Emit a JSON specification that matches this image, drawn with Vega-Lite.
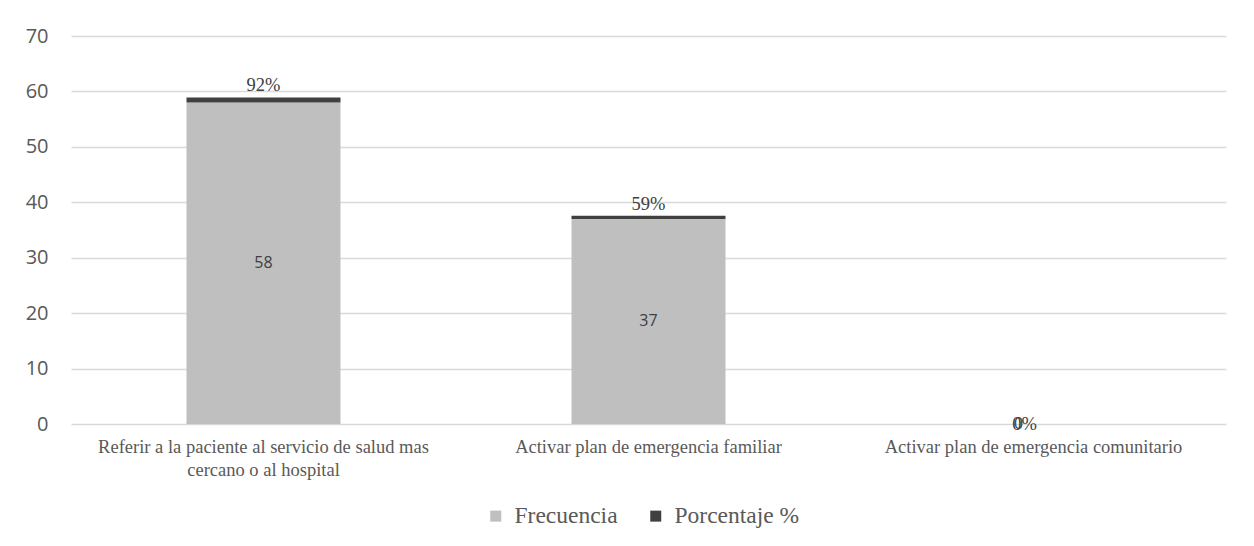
{
  "$schema": "https://vega.github.io/schema/vega-lite/v6.json",
  "width": 1155,
  "height": 388,
  "autosize": {"type": "none"},
  "padding": {"left": 71, "top": 36, "right": 28, "bottom": 122},
  "background": "white",
  "config": {"view": {"stroke": null}},
  "data": {
    "values": [
      {"categoria": "Referir a la paciente al servicio de salud mas cercano o al hospital", "serie": "Frecuencia", "valor": 58},
      {"categoria": "Referir a la paciente al servicio de salud mas cercano o al hospital", "serie": "Porcentaje %", "valor": 0.92},
      {"categoria": "Activar plan de emergencia familiar", "serie": "Frecuencia", "valor": 37},
      {"categoria": "Activar plan de emergencia familiar", "serie": "Porcentaje %", "valor": 0.59},
      {"categoria": "Activar plan de emergencia comunitario", "serie": "Frecuencia", "valor": 0},
      {"categoria": "Activar plan de emergencia comunitario", "serie": "Porcentaje %", "valor": 0}
    ]
  },
  "transform": [
    {"stack": "valor", "groupby": ["categoria"], "sort": [{"field": "serie", "order": "ascending"}], "as": ["v0", "v1"]},
    {"calculate": "(datum.v0 + datum.v1) / 2", "as": "medio"}
  ],
  "encoding": {
    "x": {
      "field": "categoria",
      "type": "nominal",
      "sort": null,
      "title": null,
      "scale": {"paddingInner": 0.6, "paddingOuter": 0.3},
      "axis": {
        "labelAngle": 0,
        "labelFont": "Liberation Serif",
        "labelFontSize": 18.5,
        "labelColor": "#595959",
        "labelLimit": 0,
        "labelPadding": 13,
        "labelLineHeight": 23,
        "labelExpr": "datum.value == 'Referir a la paciente al servicio de salud mas cercano o al hospital' ? ['Referir a la paciente al servicio de salud mas', 'cercano o al hospital'] : datum.value",
        "domain": false,
        "ticks": false
      }
    }
  },
  "layer": [
    {
      "mark": {"type": "bar"},
      "encoding": {
        "y": {
          "field": "v0",
          "type": "quantitative",
          "title": null,
          "scale": {"domain": [0, 70], "nice": false},
          "axis": {
            "values": [0, 10, 20, 30, 40, 50, 60, 70],
            "labelFont": "Open Sans",
            "labelFontSize": 20,
            "labelColor": "#595959",
            "labelPadding": 23,
            "domain": false,
            "ticks": false,
            "gridColor": "#d9d9d9",
            "gridWidth": 1.3
          }
        },
        "y2": {"field": "v1"},
        "color": {
          "field": "serie",
          "type": "nominal",
          "scale": {"domain": ["Frecuencia", "Porcentaje %"], "range": ["#bfbfbf", "#404040"]},
          "legend": {
            "title": null,
            "orient": "none",
            "direction": "horizontal",
            "legendX": 413,
            "legendY": 468,
            "symbolType": "square",
            "symbolSize": 121,
            "symbolStrokeWidth": 0,
            "labelFont": "Liberation Serif",
            "labelFontSize": 23.5,
            "labelColor": "#595959",
            "labelOffset": 7,
            "columnPadding": 26
          }
        }
      }
    },
    {
      "transform": [{"filter": "datum.serie == 'Frecuencia' && datum.valor > 0"}],
      "mark": {"type": "text", "font": "Open Sans", "fontSize": 16, "color": "#404040", "baseline": "middle"},
      "encoding": {
        "y": {"field": "medio", "type": "quantitative"},
        "text": {"field": "valor", "type": "quantitative"}
      }
    },
    {
      "transform": [{"filter": "datum.serie == 'Porcentaje %' && datum.valor > 0"}],
      "mark": {"type": "text", "font": "Liberation Serif", "fontSize": 18.5, "color": "#404040", "baseline": "alphabetic", "dy": -6},
      "encoding": {
        "y": {"field": "v1", "type": "quantitative"},
        "text": {"field": "valor", "type": "quantitative", "format": ".0%"}
      }
    },
    {
      "transform": [{"filter": "datum.serie == 'Frecuencia' && datum.valor == 0"}],
      "mark": {"type": "text", "font": "Open Sans", "fontSize": 16, "color": "#404040", "baseline": "middle", "dx": -15},
      "encoding": {
        "y": {"field": "medio", "type": "quantitative"},
        "text": {"field": "valor", "type": "quantitative"}
      }
    },
    {
      "transform": [{"filter": "datum.serie == 'Porcentaje %' && datum.valor == 0"}],
      "mark": {"type": "text", "font": "Liberation Serif", "fontSize": 18.5, "color": "#404040", "baseline": "middle", "dx": -9},
      "encoding": {
        "y": {"field": "v1", "type": "quantitative"},
        "text": {"field": "valor", "type": "quantitative", "format": ".0%"}
      }
    }
  ]
}
